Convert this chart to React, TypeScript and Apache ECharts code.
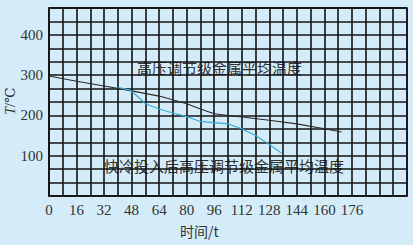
import React, { useEffect, useRef } from "react";
import * as echarts from "echarts";

const xMax = 208;
const xInterval = 8;
const yMax = 1400 / 3;
const yInterval = 100 / 3;

const blackSeries: [number, number][] = [
  [0, 298], [16, 285], [32, 273], [48, 261], [64, 248], [80, 229], [88, 216],
  [96, 204], [104, 200], [112, 196], [128, 188], [144, 179], [160, 167], [170, 159],
];
const blueSeries: [number, number][] = [
  [40, 270], [47, 263], [52, 245], [56, 229], [64, 216], [72, 206], [80, 197],
  [88, 185], [96, 182], [104, 179], [112, 167], [120, 150], [128, 128], [135, 107],
];

const upperLabel = "高压调节级金属平均温度";
const lowerLabel = "快冷投入后高压调节级金属平均温度";
const xName = "时间/t";

export default function App() {
  const ref = useRef<HTMLDivElement>(null);
  useEffect(() => {
    document.body.style.margin = "0";
    const chart = echarts.init(ref.current!, null, { renderer: "svg" });
    const serif = "'Liberation Serif', 'DejaVu Serif', serif";
    const cjk = "'Noto Sans CJK SC', sans-serif";
    chart.setOption({
      animation: false,
      backgroundColor: "#d4ecf9",
      grid: {
        left: 49, right: 6, top: 8, bottom: 49,
        show: true, borderColor: "#151515", borderWidth: 1.6,
      },
      xAxis: {
        type: "value", min: 0, max: xMax, interval: xInterval,
        axisLine: { show: true, lineStyle: { color: "#151515", width: 1.6 } },
        axisTick: { show: false },
        splitLine: { show: true, lineStyle: { color: "#151515", width: 1.6 } },
        axisLabel: {
          color: "#333", fontFamily: serif, fontSize: 15, margin: 6,
          showMinLabel: true, showMaxLabel: false,
          formatter: (v: number) => {
            const r = Math.round(v);
            return r % 16 === 0 && r <= 176 ? String(r) : "";
          },
        },
      },
      yAxis: {
        type: "value", min: 0, max: yMax, interval: yInterval,
        axisLine: { show: true, lineStyle: { color: "#151515", width: 1.6 } },
        axisTick: { show: false },
        splitLine: { show: true, lineStyle: { color: "#151515", width: 1.6 } },
        axisLabel: {
          color: "#333", fontFamily: serif, fontSize: 15, margin: 6,
          formatter: (v: number) => {
            const r = Math.round(v);
            return r > 0 && r % 100 === 0 && Math.abs(v - r) < 0.01 ? String(r) : "";
          },
        },
      },
      series: [
        {
          type: "line", data: blackSeries, showSymbol: false, smooth: false,
          lineStyle: { color: "#2a2a2a", width: 1.1 }, z: 3,
        },
        {
          type: "line", data: blueSeries, showSymbol: false, smooth: false,
          lineStyle: { color: "#3aaedb", width: 1.2 }, z: 4,
        },
      ],
      graphic: [
        {
          type: "text", left: 137, top: 60,
          style: { text: upperLabel, font: `15px ${cjk}`, fill: "#333" },
        },
        {
          type: "text", left: 104, top: 158,
          style: { text: lowerLabel, font: `15px ${cjk}`, fill: "#333" },
        },
        {
          type: "text", left: 180, top: 224,
          style: { text: xName, font: `14px ${cjk}`, fill: "#333" },
        },
        {
          type: "text", x: 10, y: 101, rotation: Math.PI / 2,
          style: {
            text: "{i|T}/℃", align: "center", verticalAlign: "middle",
            fill: "#333",
            rich: {
              i: { fontFamily: serif, fontStyle: "italic", fontSize: 14, fill: "#333" },
            },
            font: `14px ${serif}`,
          },
        },
      ],
    });
    return () => chart.dispose();
  }, []);
  return <div ref={ref} style={{ width: 413, height: 245 }} />;
}
